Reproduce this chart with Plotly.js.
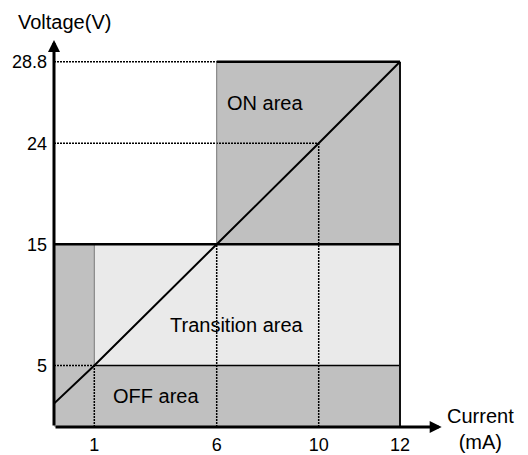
<!DOCTYPE html>
<html>
<head>
<meta charset="utf-8">
<script src="https://cdn.plot.ly/plotly-3.0.1.min.js"></script>
<style>html,body{margin:0;padding:0;background:#fff;}#chart{width:528px;height:455px;}</style>
</head>
<body>
<div id="chart"></div>
<script>
// ---- data ----
const currentTicks = [1, 6, 10, 12];          // mA
const voltageTicks = [5, 15, 24, 28.8];       // V
const currentLabels = ['1', '6', '10', '12'];
const voltageLabels = ['5', '15', '24', '28.8'];
// characteristic line (through the grid corners)
const lineCurrent = [0, 1, 6, 10, 12];
const lineVoltage = [1.9, 5, 15, 24, 28.8];
// areas: [current from, current to], [voltage from, voltage to]
const onAreaCurrent = [6, 12];          const onAreaVoltage = [15, 28.8];
const transitionCurrent = [1, 12];      const transitionVoltage = [5, 15];
const offAreaCurrent = [0, 12];         const offAreaVoltage = [0, 5];
const offStripCurrent = [0, 1];         const offStripVoltage = [5, 15];
const areaNames = ['ON area', 'Transition area', 'OFF area'];
const areaLabelCurrent = [7.9, 6.8, 3.5];
const areaLabelVoltage = [26.4, 8.3, 2.5];

// ---- schematic (non-proportional) scale used by the original drawing ----
const xScaleDomain = [0, 1, 6, 10, 12];
const xScaleRange  = [0, 40.3, 162.7, 264.7, 346];
const yScaleDomain = [0, 5, 15, 24, 28.8];
const yScaleRange  = [0, 61.5, 182.8, 283.7, 365.3];
function piecewise(v, d, r) {
  for (let i = 0; i < d.length - 1; i++) {
    if (v <= d[i + 1] || i === d.length - 2) {
      return r[i] + (v - d[i]) / (d[i + 1] - d[i]) * (r[i + 1] - r[i]);
    }
  }
}
const sx = v => piecewise(v, xScaleDomain, xScaleRange);
const sy = v => piecewise(v, yScaleDomain, yScaleRange);

const DARK = '#c0c0c0', LIGHT = '#eaeaea';
function rect(cx, vy, color) {
  return {
    type: 'scatter', mode: 'lines', fill: 'toself', fillcolor: color,
    x: [cx[0], cx[1], cx[1], cx[0], cx[0]].map(sx),
    y: [vy[0], vy[0], vy[1], vy[1], vy[0]].map(sy),
    line: {width: 0}, hoverinfo: 'skip', showlegend: false
  };
}
function seg(x0, y0, x1, y1, color, width, dash) {
  return {
    type: 'scatter', mode: 'lines',
    x: [sx(x0), sx(x1)], y: [sy(y0), sy(y1)],
    line: {color: color, width: width, dash: dash || 'solid'},
    hoverinfo: 'skip', showlegend: false
  };
}
const DOT = '2px,1px';
const iMax = currentTicks[3], vMax = voltageTicks[3];
const traces = [
  rect(offAreaCurrent, offAreaVoltage, DARK),
  rect(offStripCurrent, offStripVoltage, DARK),
  rect(transitionCurrent, transitionVoltage, LIGHT),
  rect(onAreaCurrent, onAreaVoltage, DARK),
  // dotted guides
  seg(0, vMax, currentTicks[1], vMax, '#000', 1.5, DOT),
  seg(0, voltageTicks[2], currentTicks[2], voltageTicks[2], '#000', 1.5, DOT),
  seg(0, voltageTicks[0], currentTicks[0], voltageTicks[0], '#000', 1.5, DOT),
  seg(currentTicks[0], 0, currentTicks[0], voltageTicks[0], '#000', 1.5, DOT),
  seg(currentTicks[1], 0, currentTicks[1], voltageTicks[1], '#000', 1.5, DOT),
  seg(currentTicks[2], 0, currentTicks[2], voltageTicks[2], '#000', 1.5, DOT),
  // area borders
  seg(currentTicks[0], voltageTicks[0], currentTicks[0], voltageTicks[1], '#777', 1),
  seg(currentTicks[1], voltageTicks[1], currentTicks[1], vMax, '#777', 1),
  seg(currentTicks[0], voltageTicks[0], iMax, voltageTicks[0], '#000', 1.5),
  seg(0, voltageTicks[1], iMax, voltageTicks[1], '#000', 2.5),
  seg(currentTicks[1], vMax, iMax, vMax, '#000', 2.5),
  seg(iMax, 0, iMax, vMax, '#111', 2),
  // characteristic line
  {type: 'scatter', mode: 'lines', x: lineCurrent.map(sx), y: lineVoltage.map(sy),
   line: {color: '#000', width: 2}, hoverinfo: 'skip', showlegend: false}
];

const FONT = 'Liberation Sans, Arial, sans-serif';
const annotations = areaNames.map((t, i) => ({
  text: t, x: sx(areaLabelCurrent[i]), y: sy(areaLabelVoltage[i]),
  xref: 'x', yref: 'y', showarrow: false, xanchor: 'center', yanchor: 'middle',
  font: {family: FONT, size: 20, color: '#000'}
}));
// axes with arrows
annotations.push({x: 387.7, y: 0, ax: 0, ay: 0, xref: 'x', yref: 'y', axref: 'x', ayref: 'y',
  text: '', showarrow: true, arrowhead: 2, arrowsize: 0.8, arrowwidth: 3, arrowcolor: '#000'});
annotations.push({x: 0, y: 387, ax: 0, ay: 0, xref: 'x', yref: 'y', axref: 'x', ayref: 'y',
  text: '', showarrow: true, arrowhead: 2, arrowsize: 0.8, arrowwidth: 3, arrowcolor: '#000'});
annotations.push({text: 'Voltage(V)', xref: 'paper', yref: 'paper', x: 0.026, y: 1.0465,
  xanchor: 'center', yanchor: 'middle', showarrow: false, font: {family: FONT, size: 20, color: '#000'}});
annotations.push({text: 'Current<br>(mA)', xref: 'paper', yref: 'paper', x: 1.10, y: -0.006,
  xanchor: 'center', yanchor: 'middle', showarrow: false, font: {family: FONT, size: 20, color: '#000'}});

const layout = {
  width: 528, height: 455,
  margin: {l: 54, r: 86, t: 40, b: 28},
  paper_bgcolor: '#fff', plot_bgcolor: '#fff',
  showlegend: false,
  font: {family: FONT, color: '#000'},
  xaxis: {range: [0, 388], showgrid: false, zeroline: false, showline: false,
    tickvals: currentTicks.map(sx), ticktext: currentLabels, ticks: '',
    ticklabelstandoff: 5, tickfont: {family: FONT, size: 18, color: '#000'}, fixedrange: true},
  yaxis: {range: [0, 387], showgrid: false, zeroline: false, showline: false,
    tickvals: voltageTicks.map(sy), ticktext: voltageLabels, ticks: '',
    ticklabelstandoff: 6, tickfont: {family: FONT, size: 18, color: '#000'}, fixedrange: true},
  annotations: annotations
};
Plotly.newPlot('chart', traces, layout, {displayModeBar: false, staticPlot: true});
</script>
</body>
</html>
